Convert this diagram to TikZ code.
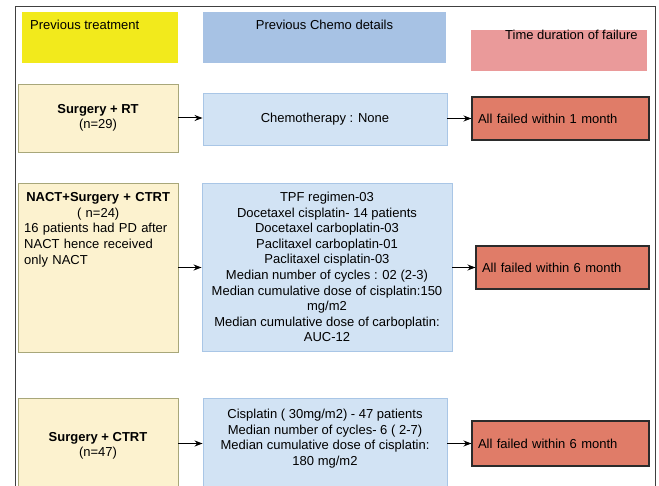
\documentclass[tikz,border=0pt]{standalone}
\usepackage{fontspec}
\setmainfont{Liberation Sans}
\usetikzlibrary{arrows.meta}
\definecolor{hdryellow}{HTML}{F2EA1C}
\definecolor{hdrblue}{HTML}{A7C2E4}
\definecolor{hdrpink}{HTML}{EA9A9A}
\definecolor{treatfill}{HTML}{FCF2CF}
\definecolor{treatdraw}{HTML}{A8A77A}
\definecolor{chemofill}{HTML}{D2E3F4}
\definecolor{chemodraw}{HTML}{A9C6E6}
\definecolor{failfill}{HTML}{E07C68}
\definecolor{faildraw}{HTML}{2B2B2B}
\begin{document}
\begin{tikzpicture}[x=1pt,y=-1pt, font=\fontsize{13}{15.6}\selectfont,
  hdr/.style={rectangle, inner sep=0pt},
  treat/.style={draw=treatdraw, fill=treatfill, line width=0.9pt, inner sep=0pt},
  chemo/.style={draw=chemodraw, fill=chemofill, line width=0.9pt, inner sep=0pt, align=center},
  fail/.style={draw=faildraw, fill=failfill, line width=1.1pt, inner sep=0pt, align=left},
  arr/.style={-{Stealth[length=8pt,width=6pt]}, line width=1pt}]
\useasboundingbox (0,0) rectangle (659,486);
\clip (0,0) rectangle (659,486);
% outer frame
\draw[line width=1pt, draw=black!75] (15,520) -- (15,7) -- (655,7) -- (655,520);
% headers
\node[hdr, fill=hdryellow, minimum width=156, minimum height=51] (h1) at (100,37.5) {};
\node[anchor=west, inner sep=0pt] (h1t) at (30,25) {Previous treatment};
\node[hdr, fill=hdrblue, minimum width=243, minimum height=51] (h2) at (324.5,37.5) {};
\node[inner sep=0pt] (h2t) at (324.5,25) {Previous Chemo details};
\node[hdr, fill=hdrpink, minimum width=176, minimum height=41] (h3) at (559,50.5) {};
\node[anchor=west, inner sep=0pt] (h3t) at (505,35) {Time duration of failure};
% row 1
\node[treat, minimum width=160, minimum height=68, align=center] (t1) at (98,118) {\textbf{Surgery + RT}\\(n=29)};
\node[chemo, minimum width=244, minimum height=52] (c1) at (325,119) {Chemotherapy : None};
\node[fail, minimum width=177, minimum height=43, text width=165] (f1) at (560.5,118.5) {All failed within 1 month};
\draw[arr] (t1.east) -- (t1.east -| c1.west);
\draw[arr] (c1.east |- f1) -- (f1.west);
% row 2
\node[treat, minimum width=160, minimum height=169] (t2) at (98,267.5) {};
\node[anchor=north west, text width=148, align=left, inner sep=0pt] (t2t) at (24,192.5) {\makebox[148pt]{\textbf{NACT+Surgery + CTRT}}\\\makebox[148pt]{( n=24)}\\16 patients had PD after\\NACT hence received\\only NACT};
\node[chemo, minimum width=250, minimum height=168] (c2) at (327,267) {TPF regimen-03\\Docetaxel cisplatin- 14 patients\\Docetaxel carboplatin-03\\Paclitaxel carboplatin-01\\Paclitaxel cisplatin-03\\Median number of cycles : 02 (2-3)\\Median cumulative dose of cisplatin:150\\mg/m2\\Median cumulative dose of carboplatin:\\AUC-12};
\node[fail, minimum width=173, minimum height=43, text width=161] (f2) at (562.5,267.5) {All failed within 6 month};
\draw[arr] (t2.east |- f2) -- (c2.west |- f2);
\draw[arr] (c2.east |- f2) -- (f2.west);
% row 3
\node[treat, minimum width=160, minimum height=112] (t3) at (98,454) {};
\node[align=center, inner sep=0pt] (t3t) at (98,446) {\textbf{Surgery + CTRT}\\(n=47)};
\node[chemo, minimum width=244, minimum height=112] (c3) at (325,454) {};
\node[align=center, inner sep=0pt] (c3t) at (325,438.5) {Cisplatin ( 30mg/m2) - 47 patients\\Median number of cycles- 6 ( 2-7)\\Median cumulative dose of cisplatin:\\180 mg/m2};
\node[fail, minimum width=177, minimum height=45, text width=165] (f3) at (560.5,443.5) {All failed within 6 month};
\draw[arr] (t3.east |- f3) -- (c3.west |- f3);
\draw[arr] (c3.east |- f3) -- (f3.west);
\end{tikzpicture}
\end{document}
